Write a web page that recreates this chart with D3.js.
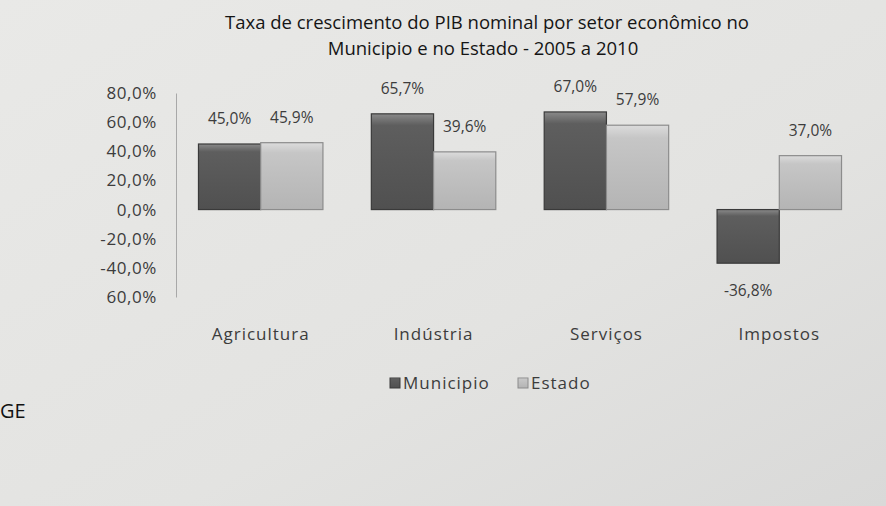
<!DOCTYPE html>
<html lang="pt">
<head>
    <meta charset="utf-8">
    <title>Taxa de crescimento do PIB nominal</title>
    <script src="https://d3js.org/d3.v7.min.js"></script>
    <style>
        body {
            margin: 0;
            background: #e4e4e2;
        }
        svg text {
            font-family: "Open Sans", sans-serif;
        }
    </style>
</head>
<body>
    <svg id="chart" width="886" height="506"></svg>

    <script>
        const categories = ["Agricultura", "Indústria", "Serviços", "Impostos"];
        const seriesNames = ["Municipio", "Estado"];
        const municipio = [45.0, 65.7, 67.0, -36.8];
        const estado = [45.9, 39.6, 57.9, 37.0];
        const tickValues = [80, 60, 40, 20, 0, -20, -40, -60];
        const tickLabels = ["80,0%", "60,0%", "40,0%", "20,0%", "0,0%", "-20,0%", "-40,0%", "60,0%"];

        const width = 886, height = 506;
        const svg = d3.select("#chart");

        // paper background
        const defs = svg.append("defs");
        const bg = defs.append("linearGradient").attr("id", "paper")
            .attr("x1", "0%").attr("x2", "100%").attr("y1", "0%").attr("y2", "100%");
        bg.append("stop").attr("offset", "0%").attr("stop-color", "#e9e9e7");
        bg.append("stop").attr("offset", "60%").attr("stop-color", "#e3e3e1");
        bg.append("stop").attr("offset", "100%").attr("stop-color", "#d9d9d8");
        svg.append("rect").attr("width", width).attr("height", height).attr("fill", "url(#paper)");

        // bar gradients
        const gDark = defs.append("linearGradient").attr("id", "dark")
            .attr("x1", "0%").attr("x2", "0%").attr("y1", "0%").attr("y2", "100%");
        gDark.append("stop").attr("offset", "0%").attr("stop-color", "#8a8a8a");
        gDark.append("stop").attr("offset", "12%").attr("stop-color", "#5e5e5e");
        gDark.append("stop").attr("offset", "100%").attr("stop-color", "#505050");
        const gLight = defs.append("linearGradient").attr("id", "light")
            .attr("x1", "0%").attr("x2", "0%").attr("y1", "0%").attr("y2", "100%");
        gLight.append("stop").attr("offset", "0%").attr("stop-color", "#dcdcdc");
        gLight.append("stop").attr("offset", "15%").attr("stop-color", "#c6c6c6");
        gLight.append("stop").attr("offset", "100%").attr("stop-color", "#b4b4b4");
        const fills = ["url(#dark)", "url(#light)"];
        const strokes = ["#3a3a3a", "#8c8c8c"];

        // title
        svg.append("text")
            .attr("x", 487).attr("y", 29)
            .attr("text-anchor", "middle")
            .attr("font-size", 18.5).attr("fill", "#151515")
            .text("Taxa de crescimento do PIB nominal por setor econômico no");
        svg.append("text")
            .attr("x", 483).attr("y", 55)
            .attr("text-anchor", "middle")
            .attr("font-size", 18.5).attr("fill", "#151515")
            .text("Municipio e no Estado - 2005 a 2010");

        const y = d3.scaleLinear().domain([-60, 80]).range([297, 93]);
        const x = d3.scaleBand().domain(categories).range([176, 864])
            .paddingInner(0.28).paddingOuter(0.13);
        const xs = d3.scaleBand().domain(seriesNames).range([0, x.bandwidth()]);

        // y axis
        const yAxis = d3.axisLeft(y)
            .tickValues(tickValues)
            .tickSize(0)
            .tickPadding(19)
            .tickFormat((d, i) => tickLabels[i]);
        const ya = svg.append("g")
            .attr("transform", "translate(176,0)")
            .call(yAxis);
        ya.select(".domain").attr("stroke", "#a8a8a8").attr("stroke-width", 1);
        ya.selectAll("text")
            .attr("font-size", 17).attr("fill", "#3c3c3c")
            .attr("letter-spacing", 0.6)
            .attr("font-family", "Open Sans, sans-serif");

        // bars
        const data = [];
        categories.forEach((c, i) => {
            data.push({ cat: c, s: 0, v: municipio[i] });
            data.push({ cat: c, s: 1, v: estado[i] });
        });

        svg.append("g").selectAll("rect")
            .data(data)
            .join("rect")
            .attr("x", d => x(d.cat) + xs(seriesNames[d.s]))
            .attr("y", d => y(Math.max(0, d.v)))
            .attr("width", xs.bandwidth())
            .attr("height", d => Math.abs(y(d.v) - y(0)))
            .attr("fill", d => fills[d.s])
            .attr("stroke", d => strokes[d.s])
            .attr("stroke-width", 1.2);

        // value labels
        const fmt = v => d3.format(".1f")(Math.abs(v)).replace(".", ",") + "%";
        svg.append("g").selectAll("text")
            .data(data)
            .join("text")
            .attr("x", d => x(d.cat) + xs(seriesNames[d.s]) + xs.bandwidth() / 2)
            .attr("y", d => d.v >= 0 ? y(d.v) - 20 : y(d.v) + 33)
            .attr("text-anchor", "middle")
            .attr("font-size", 15.5).attr("fill", "#3c3c3c")
            .text(d => (d.v < 0 ? "-" : "") + fmt(d.v));

        // category labels
        svg.append("g").selectAll("text")
            .data(categories)
            .join("text")
            .attr("x", d => x(d) + x.bandwidth() / 2)
            .attr("y", 340)
            .attr("text-anchor", "middle")
            .attr("font-size", 17).attr("letter-spacing", 1)
            .attr("fill", "#3c3c3c")
            .text(d => d);

        // legend
        const legend = svg.append("g").attr("transform", "translate(390,389)");
        const legendX = [0, 128];
        seriesNames.forEach((s, i) => {
            legend.append("rect")
                .attr("x", legendX[i]).attr("y", -11)
                .attr("width", 10).attr("height", 10)
                .attr("fill", fills[i]).attr("stroke", strokes[i]);
            legend.append("text")
                .attr("x", legendX[i] + 13).attr("y", 0)
                .attr("font-size", 17).attr("letter-spacing", 1)
                .attr("fill", "#3c3c3c")
                .text(s);
        });

        // source fragment at left edge
        svg.append("text")
            .attr("x", 0).attr("y", 418)
            .attr("font-size", 20).attr("fill", "#111")
            .text("GE");
    </script>
</body>
</html>
